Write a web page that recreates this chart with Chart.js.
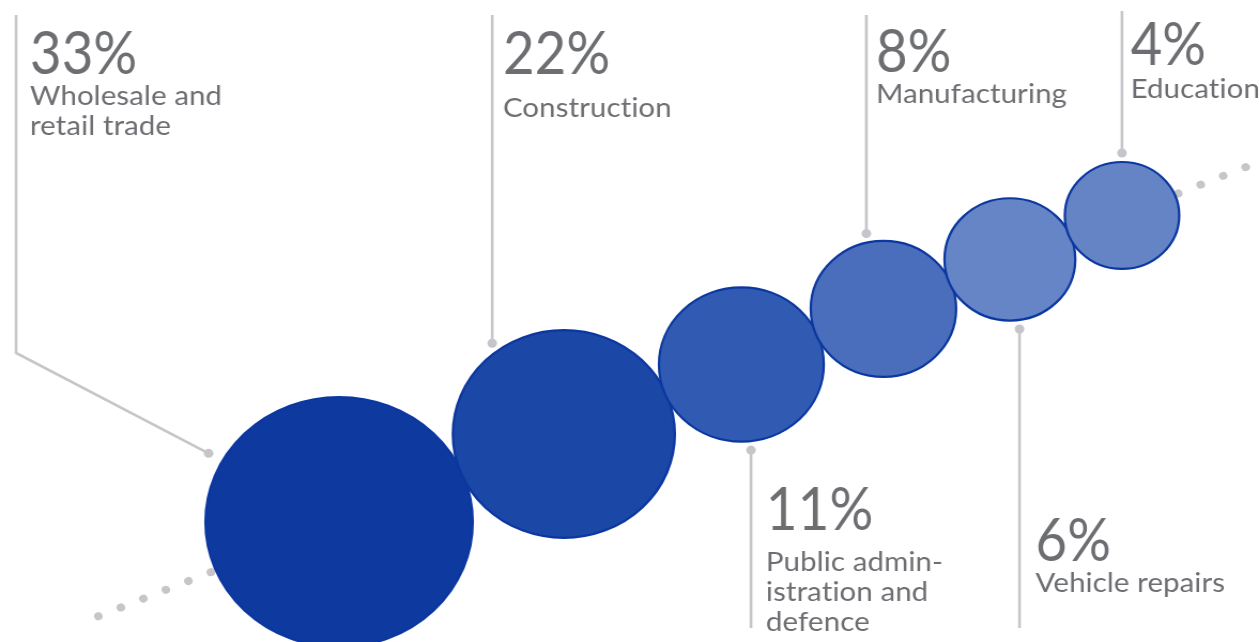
<!DOCTYPE html>
<html>
<head>
<meta charset="utf-8">
<script src="https://cdn.jsdelivr.net/npm/chart.js@4/dist/chart.umd.min.js"></script>
<style>
  html, body { margin: 0; padding: 0; background: #fff; overflow: hidden; }
  canvas { display: block; }
</style>
</head>
<body>
<!-- drawn at 1177 wide, shown at 1259 wide: the whole figure is slightly stretched sideways -->
<canvas id="chart" width="1177" height="642" style="width:1259px;height:642px"></canvas>
<script>
// share of jobs by sector, in %
const sectors = ['Wholesale and retail trade', 'Construction', 'Public administration and defence',
                 'Manufacturing', 'Vehicle repairs', 'Education'];
const sectorLines = [['Wholesale and', 'retail trade'], ['Construction'], ['Public admin-', 'istration and', 'defence'],
                     ['Manufacturing'], ['Vehicle repairs'], ['Education']];
const shares = [33, 22, 11, 8, 6, 4];
const shareLabels = shares.map(v => v + '%');

const W = 1177, H = 642;
const GREY = '#c6c6ca';
const TEXT = '#6d6e72';
const FILLS = ['#0e3a9f', '#1b47a6', '#315bb2', '#4a6ebc', '#6585c6', '#6584c5'];
const EDGE = '#0b37a0';

// bubble area grows with the share (plus a base size so small ones stay readable)
function radiusFor(v) { return Math.sqrt(1100 + 440 * v); }

// bubbles sit in a chain along a rising line, each one touching the previous
const angle = Math.atan2(-305.5, 729.5);
const origin = { x: 317, y: 522 };
const cos = Math.cos(angle), sin = Math.sin(angle);
const bubbles = [];
let along = 0;
shares.forEach((v, i) => {
  const r = radiusFor(v);
  if (i > 0) along += bubbles[i - 1].r + r - 1;
  bubbles.push({ x: origin.x + along * cos, y: origin.y + along * sin, r: r });
});
// dotted guide through the centres, sticking out at both ends
const guide = [-244, 1000].map(d => ({ x: origin.x + d * cos, y: origin.y + d * sin }));

// callout layout per bubble: which side the label sits, where the leader meets the bubble
const callouts = [
  { side: 'up',   dx: -122, gap: 15, end: 15,  elbow: { x: 15, y: 353 }, pad: 13, pctY: 74,  nameY: 105 },
  { side: 'up',   dx: -67,  gap: 9,  end: 15,  pad: 10, pctY: 74,  nameY: 117 },
  { side: 'down', dx: 9,    gap: 9,  end: 628, pad: 14, pctY: 530, nameY: 571 },
  { side: 'up',   dx: -16,  gap: 9,  end: 15,  pad: 9,  pctY: 72,  nameY: 103 },
  { side: 'down', dx: 9,    gap: 9,  end: 628, pad: 15, pctY: 561, nameY: 592 },
  { side: 'up',   dx: 0,    gap: 9,  end: 11,  pad: 8,  pctY: 65,  nameY: 98 }
];

function squeezedText(ctx, text, x, y, font, sx) {
  ctx.save();
  ctx.translate(x, y);
  ctx.scale(sx, 1);
  ctx.font = font;
  ctx.fillText(text, 0, 0);
  ctx.restore();
}

const calloutPlugin = {
  id: 'callouts',
  afterDatasetsDraw(chart) {
    const ctx = chart.ctx;
    const meta = chart.getDatasetMeta(1);
    ctx.save();
    ctx.lineWidth = 2.6;
    // a little tracking keeps Lato from joining "ti" into a ligature
    ctx.letterSpacing = '0.1px';
    meta.data.forEach((el, i) => {
      const c = callouts[i];
      const r = el.options.radius + c.gap;
      const px = el.x + c.dx;
      const off = Math.sqrt(r * r - c.dx * c.dx);
      const py = c.side === 'up' ? el.y - off : el.y + off;

      ctx.strokeStyle = GREY;
      ctx.fillStyle = GREY;
      ctx.beginPath();
      if (c.elbow) {
        ctx.moveTo(c.elbow.x, c.end);
        ctx.lineTo(c.elbow.x, c.elbow.y);
        ctx.lineTo(px, py);
      } else {
        ctx.moveTo(px, c.end);
        ctx.lineTo(px, py);
      }
      ctx.stroke();
      ctx.beginPath();
      ctx.arc(px, py, 4.5, 0, Math.PI * 2);
      ctx.fill();

      const tx = (c.elbow ? c.elbow.x : px) + c.pad;
      ctx.fillStyle = TEXT;
      ctx.textBaseline = 'alphabetic';
      squeezedText(ctx, shareLabels[i], tx, c.pctY, '400 60px Lato', 0.85);
      sectorLines[i].forEach((line, j) => {
        squeezedText(ctx, line, tx, c.nameY + j * 30, '400 27.5px Lato', 1);
      });
    });
    ctx.restore();
  }
};

new Chart(document.getElementById('chart'), {
  type: 'bubble',
  data: {
    labels: sectors,
    datasets: [
      {
        type: 'line',
        data: guide,
        borderColor: GREY,
        borderWidth: 8,
        borderDash: [0.001, 22.8],
        borderCapStyle: 'round',
        pointRadius: 0,
        fill: false,
        clip: false,
        order: 2
      },
      {
        data: bubbles,
        backgroundColor: FILLS,
        borderColor: EDGE,
        borderWidth: 2.2,
        clip: false,
        order: 1
      }
    ]
  },
  options: {
    responsive: false,
    animation: false,
    events: [],
    layout: { padding: 0, autoPadding: false },
    plugins: { legend: { display: false }, tooltip: { enabled: false } },
    scales: {
      x: { type: 'linear', min: 0, max: W, display: false },
      y: { type: 'linear', min: 0, max: H, reverse: true, display: false }
    }
  },
  plugins: [calloutPlugin]
});
</script>
</body>
</html>
